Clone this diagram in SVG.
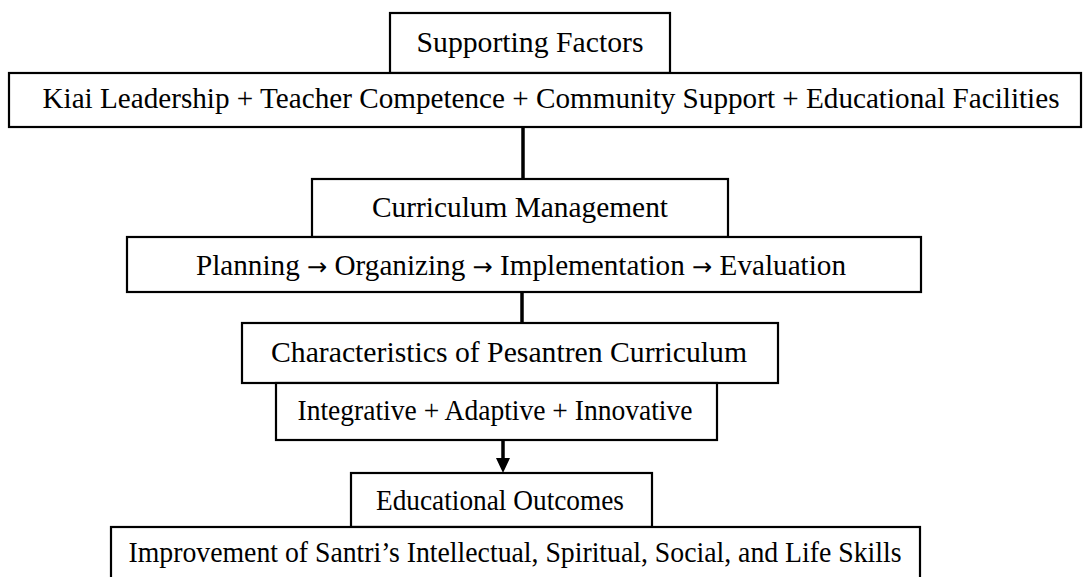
<svg xmlns="http://www.w3.org/2000/svg" width="1083" height="577" viewBox="0 0 1083 577">
<style>
.box{fill:#fff;stroke:#000;stroke-width:2.2}
.t{font-family:"Liberation Serif","Times New Roman",serif;font-size:29px;fill:#000;text-anchor:middle}
.arr{font-family:"DejaVu Sans",sans-serif;font-size:24px}
.c{stroke:#000;stroke-width:3.5;fill:none}
</style>
<defs>
<marker id="ah" markerWidth="15" markerHeight="14" refX="0" refY="7" orient="auto" markerUnits="userSpaceOnUse">
<path d="M0,0 L15,7 L0,14 Z" fill="#000"/>
</marker>
</defs>
<rect width="1083" height="577" fill="#fff"/>
<g id="connectors">
<line class="c" x1="523" y1="127" x2="523" y2="179"/>
<line class="c" x1="522" y1="292" x2="522" y2="323"/>
<line class="c" x1="503" y1="440" x2="503" y2="458" marker-end="url(#ah)"/>
</g>
<g id="supporting-factors">
<rect class="box" x="390" y="13" width="280" height="60"/>
<text class="t" x="530" y="52" textLength="227" lengthAdjust="spacingAndGlyphs">Supporting Factors</text>
</g>
<g id="factors-list">
<rect class="box" x="9" y="73" width="1072" height="54"/>
<text class="t" x="551" y="108" textLength="1017" lengthAdjust="spacingAndGlyphs">Kiai Leadership + Teacher Competence + Community Support + Educational Facilities</text>
</g>
<g id="curriculum-management">
<rect class="box" x="312" y="179" width="416" height="58"/>
<text class="t" x="520" y="217" textLength="296" lengthAdjust="spacingAndGlyphs">Curriculum Management</text>
</g>
<g id="management-steps">
<rect class="box" x="127" y="237" width="794" height="55"/>
<text class="t" x="521" y="275" textLength="650" lengthAdjust="spacingAndGlyphs">Planning <tspan class="arr">→</tspan> Organizing <tspan class="arr">→</tspan> Implementation <tspan class="arr">→</tspan> Evaluation</text>
</g>
<g id="characteristics">
<rect class="box" x="242" y="323" width="536" height="60"/>
<text class="t" x="509" y="362" textLength="476" lengthAdjust="spacingAndGlyphs">Characteristics of Pesantren Curriculum</text>
</g>
<g id="characteristics-list">
<rect class="box" x="276" y="383" width="441" height="57"/>
<text class="t" x="495" y="420" textLength="395" lengthAdjust="spacingAndGlyphs">Integrative + Adaptive + Innovative</text>
</g>
<g id="educational-outcomes">
<rect class="box" x="351" y="473" width="301" height="54"/>
<text class="t" x="500" y="510" textLength="248" lengthAdjust="spacingAndGlyphs">Educational Outcomes</text>
</g>
<g id="outcomes-list">
<rect class="box" x="111" y="527" width="809" height="70"/>
<text class="t" x="515" y="562" textLength="773" lengthAdjust="spacingAndGlyphs">Improvement of Santri’s Intellectual, Spiritual, Social, and Life Skills</text>
</g>
</svg>
